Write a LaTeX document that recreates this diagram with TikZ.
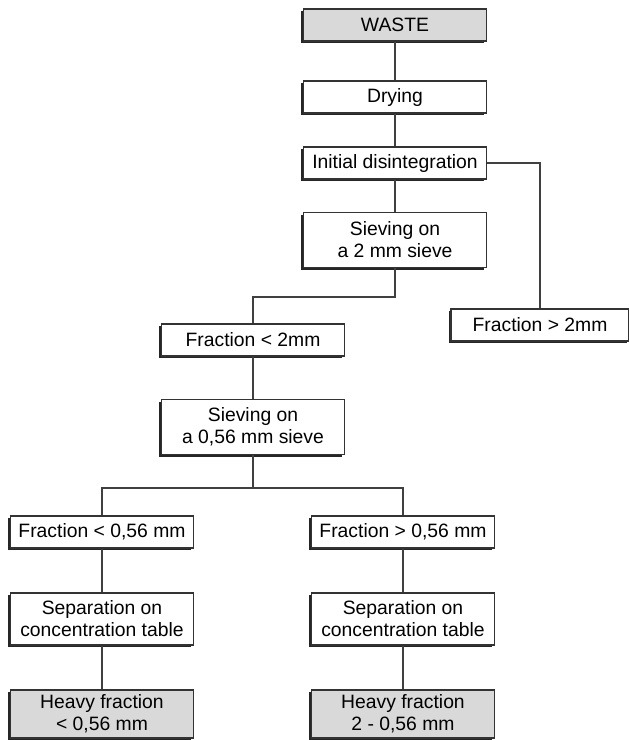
\documentclass[tikz,border=0pt]{standalone}
\usepackage{fontspec}
\setmainfont{Liberation Sans}
\usetikzlibrary{shadows}
\tikzset{
	stepbox/.style={draw=black!80,line width=0.6pt,fill=white,align=center,
		minimum width=3.66cm,minimum height=0.64cm,inner sep=1pt,
		font=\fontsize{11}{12.5}\selectfont,
		drop shadow={shadow xshift=-1.4pt,shadow yshift=-1.4pt,fill=black!85,opacity=1}},
	endbox/.style={stepbox,fill=black!15},
	link/.style={draw=black!75,line width=0.6pt}
}
\begin{document}
\begin{tikzpicture}
			\useasboundingbox (0,0) rectangle (12.58,-14.8);
			% main column
			\node[endbox] (waste) at (7.9,-0.5) {WASTE};
			\node[stepbox] (drying) at (7.9,-1.94) {Drying};
			\node[stepbox] (initial) at (7.9,-3.26) {Initial disintegration};
			\node[stepbox,minimum height=1.1cm] (sieveA) at (7.9,-4.8) {Sieving on\\a 2 mm sieve};
			\node[stepbox] (finesA) at (5.06,-6.8) {Fraction < 2mm};
			\node[stepbox,minimum width=3.56cm] (coarseA) at (10.8,-6.5) {Fraction > 2mm};
			\node[stepbox,minimum height=1.1cm] (sieveB) at (5.06,-8.54) {Sieving on\\a 0,56 mm sieve};
			% two branches
			\node[stepbox] (finesB) at (2.04,-10.64) {Fraction < 0,56 mm};
			\node[stepbox] (coarseB) at (8.06,-10.64) {Fraction > 0,56 mm};
			\node[stepbox,minimum height=1.04cm] (tableA) at (2.04,-12.38) {Separation on\\concentration table};
			\node[stepbox,minimum height=1.04cm] (tableB) at (8.06,-12.38) {Separation on\\concentration table};
			\node[endbox,minimum height=0.96cm] (heavyA) at (2.04,-14.28) {Heavy fraction\\< 0,56 mm};
			\node[endbox,minimum height=0.96cm] (heavyB) at (8.06,-14.28) {Heavy fraction\\2 - 0,56 mm};
			\coordinate (splitA) at (7.9,-5.94);
			\coordinate (splitB) at (5.06,-9.76);
			\draw[link] (waste) -- (drying);
			\draw[link] (drying) -- (initial);
			\draw[link] (initial) -- (sieveA);
			\draw[link] (initial.east) -| (coarseA.north);
			\draw[link] (sieveA) -- (splitA) -| (finesA.north);
			\draw[link] (finesA) -- (sieveB);
			\draw[link] (sieveB) -- (splitB) -| (finesB.north);
			\draw[link] (splitB) -| (coarseB.north);
			\draw[link] (finesB) -- (tableA);
			\draw[link] (coarseB) -- (tableB);
			\draw[link] (tableA) -- (heavyA);
			\draw[link] (tableB) -- (heavyB);
		\end{tikzpicture}
\end{document}
